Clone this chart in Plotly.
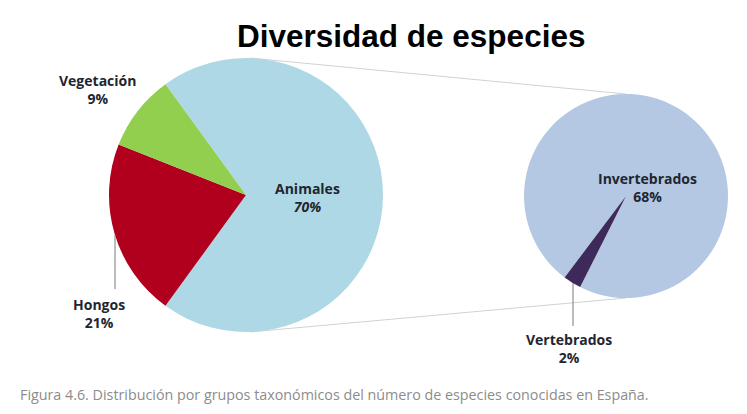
import plotly.graph_objects as go

# ---- data ----
main_labels = ["Animales", "Hongos", "Vegetación"]
main_values = [70, 21, 9]
main_colors = ["#aed8e6", "#b0001e", "#92cf4e"]

sub_labels = ["Invertebrados", "Vertebrados"]
sub_values = [68, 2]
sub_colors = ["#b4c8e3", "#3d2a5a"]

title_text = "Diversidad de especies"
caption_text = ("Figura 4.6. Distribución por grupos taxonómicos del número de "
                "especies conocidas en España.")

W, H = 747, 414


def px(x, y):
    return x / W, 1 - y / H


# pie geometry (pixels)
L_cx, L_cy, L_r = 246, 195, 137
R_cx, R_cy, R_r = 626, 196, 102


def dom(cx, cy, r):
    x0, y1 = px(cx - r, cy - r)
    x1, y0 = px(cx + r, cy + r)
    return dict(x=[x0, x1], y=[y0, y1])


fig = go.Figure()
fig.add_trace(go.Pie(
    labels=main_labels, values=main_values, sort=False, direction="clockwise",
    rotation=-36, domain=dom(L_cx, L_cy, L_r), textinfo="none", hoverinfo="label+percent",
    marker=dict(colors=main_colors, line=dict(width=0)), showlegend=False,
))
fig.add_trace(go.Pie(
    labels=sub_labels, values=sub_values, sort=False, direction="clockwise",
    rotation=217, domain=dom(R_cx, R_cy, R_r), textinfo="none", hoverinfo="label+value",
    marker=dict(colors=sub_colors, line=dict(width=0)), showlegend=False,
))

shapes = []
line_style = dict(color="#d2d2d2", width=1)
# connector lines between the two pies
for sgn in (-1, 1):
    x0, y0 = px(L_cx + 4, L_cy + sgn * L_r)
    x1, y1 = px(R_cx, R_cy + sgn * R_r)
    shapes.append(dict(type="line", xref="paper", yref="paper",
                       x0=x0, y0=y0, x1=x1, y1=y1, line=line_style, layer="below"))
# leader lines
lead = dict(color="#7a7a7a", width=1)
for (xa, ya, xb, yb) in [(115, 235, 115, 289), (573, 283, 573, 326)]:
    a = px(xa, ya)
    b = px(xb, yb)
    shapes.append(dict(type="line", xref="paper", yref="paper",
                       x0=a[0], y0=a[1], x1=b[0], y1=b[1], line=lead))

lab_font = dict(family="'Open Sans', sans-serif", size=14, color="#1e2630")
annotations = []
label_pos = {
    "Animales": (307, 197),
    "Hongos": (99, 313),
    "Vegetación": (97, 90),
    "Invertebrados": (647, 187),
    "Vertebrados": (569, 348),
}
all_labels = main_labels + sub_labels
all_values = main_values + sub_values
for lab, val in zip(all_labels, all_values):
    pct = f"{val}%"
    if lab == "Animales":
        pct = f"<i>{pct}</i>"
    x, y = px(*label_pos[lab])
    annotations.append(dict(
        text=f"<b>{lab}<br>{pct}</b>", x=x, y=y, xref="paper", yref="paper",
        showarrow=False, xanchor="center", yanchor="middle", font=lab_font,
        align="center",
    ))

tx, ty = px(411, 36)
annotations.append(dict(
    text=f"<b>{title_text}</b>", x=tx, y=ty, xref="paper", yref="paper",
    showarrow=False, xanchor="center", yanchor="middle",
    font=dict(family="Liberation Sans, Arial, sans-serif", size=31.5, color="#000000"),
))
cx_, cy_ = px(18, 394)
annotations.append(dict(
    text=caption_text, x=cx_, y=cy_, xref="paper", yref="paper",
    showarrow=False, xanchor="left", yanchor="middle",
    font=dict(family="'Open Sans', sans-serif", size=14.3, color="#8c8c8c"),
))

fig.update_layout(
    width=W, height=H, margin=dict(l=0, r=0, t=0, b=0),
    paper_bgcolor="white", plot_bgcolor="white",
    shapes=shapes, annotations=annotations, showlegend=False,
)

fig.write_html("out.html", config={"displayModeBar": False},
               post_script="document.body.style.margin='0';")
